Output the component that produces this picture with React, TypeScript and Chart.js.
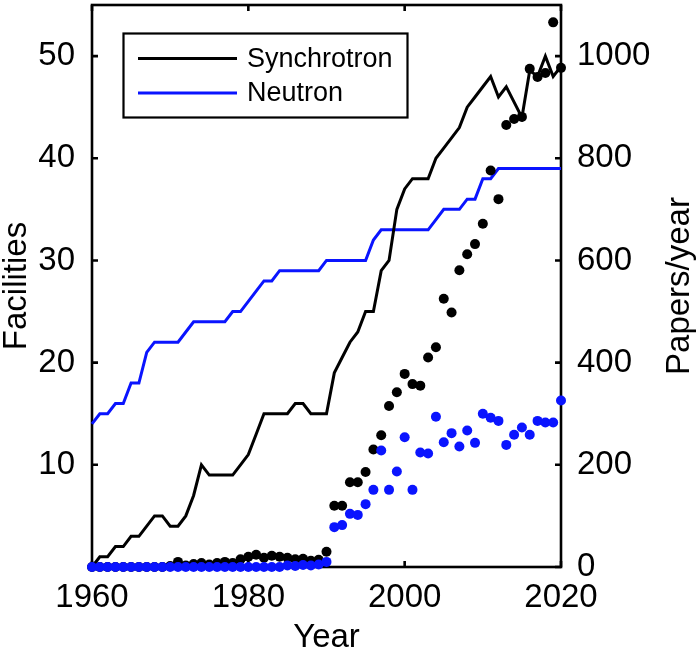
import React, { useEffect, useRef } from 'react';
import { Chart, registerables } from 'chart.js';

Chart.register(...registerables);

const years = [
  1960, 1961, 1962, 1963, 1964, 1965, 1966, 1967, 1968, 1969,
  1970, 1971, 1972, 1973, 1974, 1975, 1976, 1977, 1978, 1979,
  1980, 1981, 1982, 1983, 1984, 1985, 1986, 1987, 1988, 1989,
  1990, 1991, 1992, 1993, 1994, 1995, 1996, 1997, 1998, 1999,
  2000, 2001, 2002, 2003, 2004, 2005, 2006, 2007, 2008, 2009,
  2010, 2011, 2012, 2013, 2014, 2015, 2016, 2017, 2018, 2019,
  2020,
];

const synchrotronFacilities = [
  0, 1, 1, 2, 2, 3, 3, 4, 5, 5,
  4, 4, 5, 7, 10, 9, 9, 9, 9, 10,
  11, 13, 15, 15, 15, 15, 16, 16, 15, 15,
  15, 19, 20.5, 22, 23, 25, 25, 29, 30, 35,
  37, 38, 38, 38, 40, 41, 42, 43, 45, 46,
  47, 48, 46, 47, 45.5, 44, 48.6, 48, 50, 48,
  49,
];

const neutronFacilities = [
  14, 15, 15, 16, 16, 18, 18, 21, 22, 22,
  22, 22, 23, 24, 24, 24, 24, 24, 25, 25,
  26, 27, 28, 28, 29, 29, 29, 29, 29, 29,
  30, 30, 30, 30, 30, 30, 32, 33, 33, 33,
  33, 33, 33, 33, 34, 35, 35, 35, 36, 36,
  38, 38, 39, 39, 39, 39, 39, 39, 39, 39,
  39,
];

const synchrotronPapers = [
  0, 0, 0, 0, 0, 0, 0, 0, 0, 0,
  2, 10, 3, 6, 8, 5, 8, 10, 8, 15,
  20, 24, 18, 22, 20, 18, 15, 16, 12, 14,
  30, 120, 120, 166, 166, 186, 230, 258, 315, 342,
  378, 358, 355, 410, 430, 525, 498, 581, 612, 632,
  672, 776, 720, 865, 877, 881, 975, 959, 967, 1066,
  977,
];

const neutronPapers = [
  0, 0, 0, 0, 0, 0, 0, 0, 0, 0,
  0, 0, 0, 0, 0, 0, 0, 0, 0, 0,
  0, 0, 0, 0, 0, 3, 2, 4, 3, 5,
  10, 78, 82, 104, 102, 123, 151, 228, 151, 187,
  254, 151, 224, 222, 294, 244, 262, 236, 267, 243,
  300, 292, 286, 239, 259, 273, 259, 286, 283, 283,
  326,
];

const xTicks = [1960, 1980, 2000, 2020];
const leftTicks = [10, 20, 30, 40, 50];
const rightTicks = [0, 200, 400, 600, 800, 1000];

const FONT = '"Liberation Sans", Arial, Helvetica, sans-serif';
const BLUE = '#0a14ff';
const LABEL_SIZE = 33;

const toXY = (vals: number[]) => years.map((yr, i) => ({ x: yr, y: vals[i] }));

const framePlugin = {
  id: 'matlabFrame',
  beforeDatasetsDraw(chart: any) {
    const { ctx, chartArea: a, scales } = chart;
    ctx.save();
    ctx.strokeStyle = '#000';
    ctx.lineWidth = 2.6;
    ctx.strokeRect(a.left, a.top, a.right - a.left, a.bottom - a.top);
    const L = 6;
    ctx.beginPath();
    xTicks.forEach((v) => {
      const x = scales.x.getPixelForValue(v);
      ctx.moveTo(x, a.bottom);
      ctx.lineTo(x, a.bottom - L);
      ctx.moveTo(x, a.top);
      ctx.lineTo(x, a.top + L);
    });
    leftTicks.forEach((v) => {
      const y = scales.y.getPixelForValue(v);
      ctx.moveTo(a.left, y);
      ctx.lineTo(a.left + L, y);
    });
    rightTicks.forEach((v) => {
      const y = scales.y2.getPixelForValue(v);
      ctx.moveTo(a.right, y);
      ctx.lineTo(a.right - L, y);
    });
    ctx.stroke();
    ctx.restore();
  },
  afterDatasetsDraw(chart: any) {
    const { ctx } = chart;
    const ds = chart.data.datasets;
    const entries = [ds[2], ds[3]];
    ctx.save();
    const bx = 123.5, by = 33.5, bw = 284, bh = 84;
    ctx.fillStyle = '#fff';
    ctx.fillRect(bx, by, bw, bh);
    ctx.strokeStyle = '#000';
    ctx.lineWidth = 2.2;
    ctx.strokeRect(bx, by, bw, bh);
    ctx.font = `27px ${FONT}`;
    ctx.textBaseline = 'middle';
    ctx.textAlign = 'left';
    entries.forEach((d: any, i: number) => {
      const y = 58.5 + i * 34.5;
      ctx.strokeStyle = d.borderColor;
      ctx.lineWidth = 3;
      ctx.beginPath();
      ctx.moveTo(138, y);
      ctx.lineTo(237, y);
      ctx.stroke();
      ctx.fillStyle = '#000';
      ctx.fillText(d.label, 247, y + 1);
    });
    ctx.restore();
  },
  afterDraw(chart: any) {
    const { ctx, chartArea: a } = chart;
    ctx.save();
    ctx.font = `${LABEL_SIZE}px ${FONT}`;
    ctx.fillStyle = '#000';
    ctx.textAlign = 'center';
    ctx.textBaseline = 'middle';
    ctx.translate(680, (a.top + a.bottom) / 2);
    ctx.rotate(-Math.PI / 2);
    ctx.fillText('Papers/year', 0, 0);
    ctx.restore();
  },
};

export default function App() {
  const ref = useRef<HTMLCanvasElement | null>(null);

  useEffect(() => {
    if (!ref.current) return;
    const tickFont = { family: FONT, size: LABEL_SIZE };
    const chart = new Chart(ref.current, {
      type: 'line',
      data: {
        datasets: [
          {
            label: 'Neutron papers',
            data: toXY(neutronPapers),
            yAxisID: 'y2',
            showLine: false,
            pointRadius: 5,
            pointBackgroundColor: BLUE,
            pointBorderWidth: 0,
            borderColor: BLUE,
            clip: false,
          },
          {
            label: 'Synchrotron papers',
            data: toXY(synchrotronPapers),
            yAxisID: 'y2',
            showLine: false,
            pointRadius: 5,
            pointBackgroundColor: '#000',
            pointBorderWidth: 0,
            borderColor: '#000',
            clip: false,
          },
          {
            label: 'Synchrotron',
            data: toXY(synchrotronFacilities),
            yAxisID: 'y',
            borderColor: '#000',
            borderWidth: 3,
            pointRadius: 0,
            tension: 0,
            clip: false,
          },
          {
            label: 'Neutron',
            data: toXY(neutronFacilities),
            yAxisID: 'y',
            borderColor: BLUE,
            borderWidth: 3,
            pointRadius: 0,
            tension: 0,
            clip: false,
          },
        ],
      } as any,
      options: {
        responsive: false,
        animation: false,
        devicePixelRatio: 1,
        layout: { padding: { top: 3, left: 0, right: 0, bottom: 0 } },
        plugins: { legend: { display: false }, tooltip: { enabled: false } },
        scales: {
          x: {
            type: 'linear',
            position: 'bottom',
            min: 1960,
            max: 2020,
            afterBuildTicks: (s: any) => {
              s.ticks = xTicks.map((v) => ({ value: v }));
            },
            afterFit: (s: any) => {
              s.height = 90;
              s.paddingLeft = 0;
              s.paddingRight = 0;
            },
            grid: { display: false, drawTicks: false },
            border: { display: false },
            ticks: {
              font: tickFont,
              color: '#000',
              padding: 11,
              maxRotation: 0,
              autoSkip: false,
              callback: (v: any) => String(v),
            },
            title: {
              display: true,
              text: 'Year',
              color: '#000',
              font: { family: FONT, size: LABEL_SIZE, lineHeight: 1 },
              padding: { top: 0, bottom: 3 },
            },
          },
          y: {
            type: 'linear',
            position: 'left',
            min: 0,
            max: 55,
            afterBuildTicks: (s: any) => {
              s.ticks = leftTicks.map((v) => ({ value: v }));
            },
            afterFit: (s: any) => {
              s.width = 92;
              s.paddingTop = 0;
              s.paddingBottom = 0;
            },
            grid: { display: false, drawTicks: false },
            border: { display: false },
            ticks: { font: tickFont, color: '#000', padding: 17, callback: (v: any) => String(v) },
            title: {
              display: true,
              text: 'Facilities',
              color: '#000',
              font: { family: FONT, size: LABEL_SIZE, lineHeight: 1 },
              padding: { top: 0, bottom: 0 },
            },
          },
          y2: {
            type: 'linear',
            position: 'right',
            min: 0,
            max: 1100,
            afterBuildTicks: (s: any) => {
              s.ticks = rightTicks.map((v) => ({ value: v }));
            },
            afterFit: (s: any) => {
              s.width = 137;
              s.paddingTop = 0;
              s.paddingBottom = 0;
            },
            grid: { display: false, drawTicks: false },
            border: { display: false },
            ticks: { font: tickFont, color: '#000', padding: 16, callback: (v: any) => String(v) },
          },
        },
      } as any,
      plugins: [framePlugin],
    });
    return () => chart.destroy();
  }, []);

  return (
    <div style={{ position: 'absolute', left: 0, top: 0, width: 698, height: 657, background: '#fff' }}>
      <canvas ref={ref} width={698} height={657} style={{ display: 'block', width: 698, height: 657 }} />
    </div>
  );
}
